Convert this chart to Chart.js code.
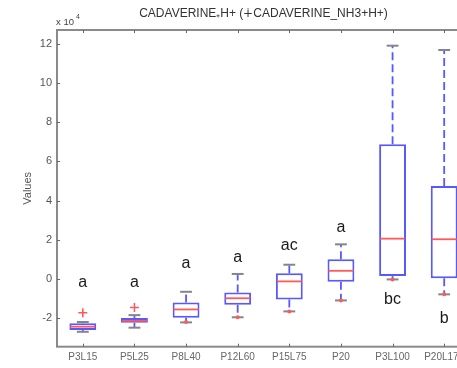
<!DOCTYPE html>
<html>
<head>
<meta charset="utf-8">
<script src="https://cdn.jsdelivr.net/npm/chart.js@4/dist/chart.umd.min.js"></script>
<style>
html,body{margin:0;padding:0;background:#fff;overflow:hidden;width:457px;height:368px;}
canvas{display:block;}
</style>
</head>
<body>
<canvas id="c" width="490" height="368"></canvas>
<script>
// values in units of 1e4
const categories = ['P3L15','P5L25','P8L40','P12L60','P15L75','P20','P3L100','P20L175'];
const whiskerHigh = [-2.19, -1.84, -0.65, 0.26, 0.73, 1.77, 11.9, 11.68];
const q3          = [-2.26, -1.99, -1.19, -0.68, 0.29, 1.01, 6.87, 4.74];
const median      = [-2.43, -2.13, -1.55, -0.98, -0.12, 0.42, 2.06, 2.03];
const q1          = [-2.60, -2.23, -1.97, -1.31, -1.04, -0.14, 0.15, 0.04];
const whiskerLow  = [-2.69, -2.48, -2.21, -1.95, -1.65, -1.09, -0.02, -0.78];
const outlierPlus = [-1.72, -1.45, null, null, null, null, null, null];
const outlierDot  = [null, null, -2.19, -1.95, -1.65, -1.09, -0.02, -0.78];
const letters     = ['a','a','a','a','ac','a','bc','b'];
const letterY     = [-0.19, -0.19, 0.77, 1.09, 1.70, 2.64, -1.04, -2.0];
const yTicks      = [-2, 0, 2, 4, 6, 8, 10, 12];
const yMin = -3.45, yMax = 12.7;
const titleText = 'CADAVERINE\u208AH+ (\u2214CADAVERINE_NH3+H+)';

const BLUE = '#5858ff', RED = '#ff5a5a', CAP = '#858585', AXIS = '#8a8a8a';
const FONT = '"Liberation Sans", Arial, sans-serif';

const boxPlugin = {
  id: 'boxPlugin',
  beforeDatasetsDraw(chart) {
    const ctx = chart.ctx, x = chart.scales.x, y = chart.scales.y;
    const meta = chart.getDatasetMeta(0);
    ctx.save();
    categories.forEach((c, i) => {
      const bar = meta.data[i];
      const cx = x.getPixelForValue(i);
      const half = bar.width / 2;
      const capHalf = half * 0.44;
      ctx.strokeStyle = BLUE; ctx.lineWidth = 1.8; ctx.setLineDash([8, 4]);
      ctx.beginPath();
      ctx.moveTo(cx, y.getPixelForValue(q3[i])); ctx.lineTo(cx, y.getPixelForValue(whiskerHigh[i]));
      ctx.stroke();
      ctx.beginPath();
      ctx.moveTo(cx, y.getPixelForValue(q1[i])); ctx.lineTo(cx, y.getPixelForValue(whiskerLow[i]));
      ctx.stroke();
      ctx.setLineDash([]);
      ctx.strokeStyle = CAP; ctx.lineWidth = 2;
      [whiskerHigh[i], whiskerLow[i]].forEach(v => {
        const py = y.getPixelForValue(v);
        ctx.beginPath(); ctx.moveTo(cx - capHalf, py); ctx.lineTo(cx + capHalf, py); ctx.stroke();
      });
    });
    ctx.restore();
  },
  afterDatasetsDraw(chart) {
    const ctx = chart.ctx, x = chart.scales.x, y = chart.scales.y, a = chart.chartArea;
    const meta = chart.getDatasetMeta(0);
    ctx.save();
    categories.forEach((c, i) => {
      const bar = meta.data[i];
      const cx = x.getPixelForValue(i);
      const half = bar.width / 2;
      const py = y.getPixelForValue(median[i]);
      ctx.strokeStyle = RED; ctx.lineWidth = 1.8;
      ctx.beginPath(); ctx.moveTo(cx - half + 1, py); ctx.lineTo(cx + half - 1, py); ctx.stroke();
      ctx.fillStyle = '#1a1a1a'; ctx.font = '16px ' + FONT;
      ctx.textAlign = 'center'; ctx.textBaseline = 'middle';
      ctx.fillText(letters[i], cx, y.getPixelForValue(letterY[i]));
    });
    ctx.strokeStyle = AXIS; ctx.lineWidth = 2;
    ctx.strokeRect(a.left, a.top, a.right - a.left, a.bottom - a.top);
    ctx.lineWidth = 1; ctx.strokeStyle = '#666';
    yTicks.forEach(v => {
      const py = Math.round(y.getPixelForValue(v)) + 0.5;
      ctx.beginPath(); ctx.moveTo(a.left, py); ctx.lineTo(a.left + 3, py); ctx.stroke();
      ctx.beginPath(); ctx.moveTo(a.right, py); ctx.lineTo(a.right - 3, py); ctx.stroke();
    });
    categories.forEach((c, i) => {
      const px = Math.round(x.getPixelForValue(i)) + 0.5;
      ctx.beginPath(); ctx.moveTo(px, a.bottom); ctx.lineTo(px, a.bottom - 3); ctx.stroke();
      ctx.beginPath(); ctx.moveTo(px, a.top); ctx.lineTo(px, a.top + 3); ctx.stroke();
    });
    ctx.fillStyle = '#333'; ctx.font = '12px ' + FONT;
    ctx.textAlign = 'center'; ctx.textBaseline = 'middle';
    ctx.fillText(titleText, (a.left + a.right) / 2, 14);
    ctx.fillStyle = '#444'; ctx.font = '9.5px ' + FONT;
    ctx.textAlign = 'left';
    ctx.fillText('x 10', a.left - 1, 22);
    ctx.font = '7px ' + FONT;
    ctx.fillText('4', a.left + 19, 17.5);
    ctx.save();
    ctx.translate(28, (a.top + a.bottom) / 2);
    ctx.rotate(-Math.PI / 2);
    ctx.font = '11px ' + FONT;
    ctx.fillStyle = '#555'; ctx.textAlign = 'center'; ctx.textBaseline = 'middle';
    ctx.fillText('Values', 0, 0);
    ctx.restore();
    ctx.restore();
  }
};

new Chart(document.getElementById('c'), {
  type: 'bar',
  data: {
    labels: categories,
    datasets: [
      {
        label: 'box',
        data: q1.map((v, i) => [v, q3[i]]),
        backgroundColor: 'rgba(255,255,255,1)',
        borderColor: BLUE,
        borderWidth: 2,
        borderSkipped: false,
        barPercentage: 0.52,
        categoryPercentage: 1,
        order: 2
      },
      {
        type: 'line', label: 'outliers', data: outlierPlus, showLine: false,
        pointStyle: 'cross', pointRadius: 4.5, pointBorderColor: RED, pointBorderWidth: 1.6,
        order: 1
      },
      {
        type: 'line', label: 'low', data: outlierDot, showLine: false,
        pointStyle: 'circle', pointRadius: 2, pointBackgroundColor: RED, pointBorderColor: RED, pointBorderWidth: 0,
        order: 0
      }
    ]
  },
  options: {
    responsive: false,
    animation: false,
    devicePixelRatio: 1,
    layout: { padding: { left: 0, top: 30, right: 20, bottom: 0 } },
    plugins: { legend: { display: false }, tooltip: { enabled: false }, title: { display: false } },
    scales: {
      x: {
        type: 'category', offset: true,
        grid: { display: false, drawTicks: false },
        border: { display: false },
        ticks: { color: '#666', font: { size: 10, family: FONT }, padding: 5, maxRotation: 0, autoSkip: false },
        afterFit(s) { s.height = 21.3; }
      },
      y: {
        min: yMin, max: yMax,
        grid: { display: false, drawTicks: false },
        border: { display: false },
        afterBuildTicks(s) { s.ticks = yTicks.map(v => ({ value: v })); },
        ticks: { color: '#555', font: { size: 11, family: FONT }, padding: 5 },
        afterFit(s) { s.width = 57; }
      }
    }
  },
  plugins: [boxPlugin]
});
</script>
</body>
</html>
